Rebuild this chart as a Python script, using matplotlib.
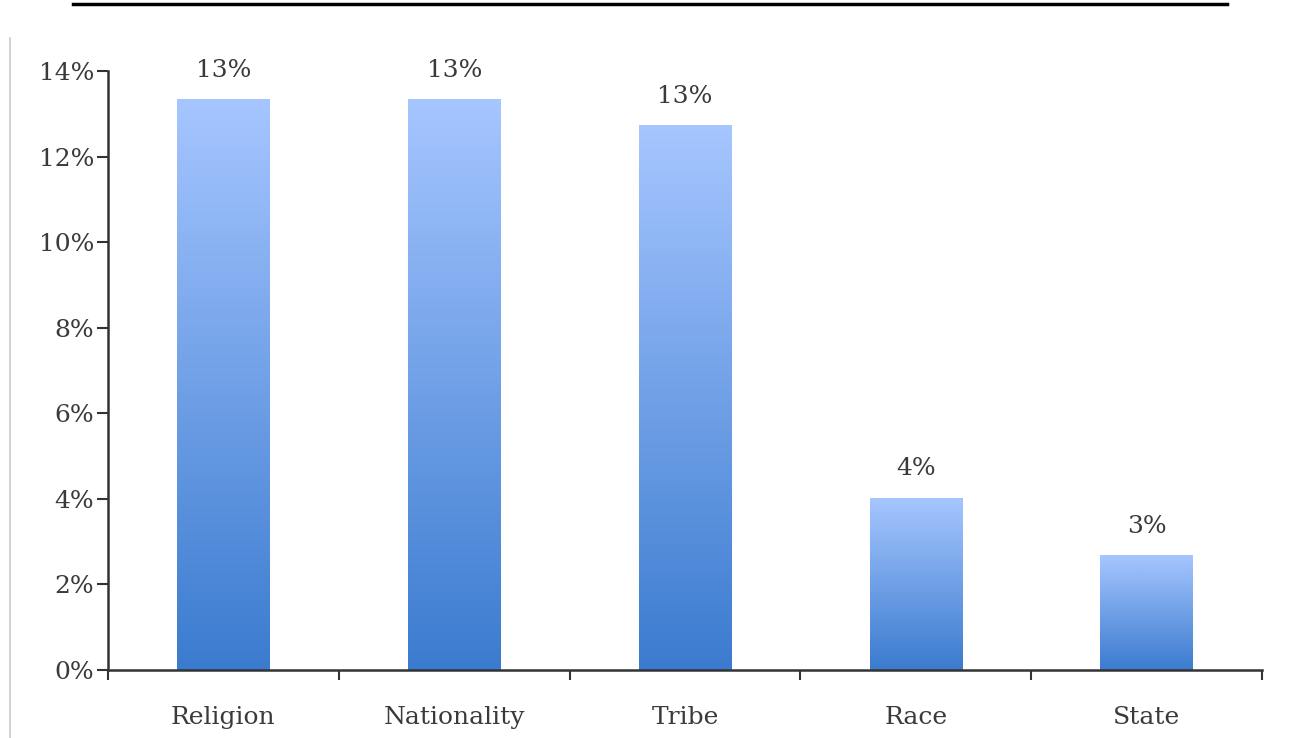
import matplotlib.pyplot as plt
import numpy as np
from matplotlib.lines import Line2D
from matplotlib.colors import LinearSegmentedColormap

categories = ['Religion', 'Nationality', 'Tribe', 'Race', 'State']
shares = [13.35, 13.35, 12.73, 4.03, 2.68]
labels = ['13%', '13%', '13%', '4%', '3%']
yticks = [0, 2, 4, 6, 8, 10, 12, 14]

plt.rcParams['font.family'] = ['DejaVu Serif']
txt_color = '#3a3a3a'
fs = 18

fig = plt.figure(figsize=(12.94, 7.38), dpi=100)
ax = fig.add_axes([108 / 1294, 68 / 738, 1154 / 1294, 599 / 738])

x = np.arange(len(categories))
bars = ax.bar(x, shares, width=0.4, color='none')

# vertical gradient fill, light on top, darker at the base
grad = np.linspace(0, 1, 256).reshape(-1, 1)
cmap = LinearSegmentedColormap.from_list('bluegrad', ['#3b7bcf', '#a6c6ff'])
for b in bars:
    x0, w, h = b.get_x(), b.get_width(), b.get_height()
    im = ax.imshow(grad, cmap=cmap, aspect='auto', origin='lower',
                   extent=[x0, x0 + w, 0, h], zorder=2)
    im.set_clip_path(b)

for xi, v, lab in zip(x, shares, labels):
    ax.text(xi, v + 0.4, lab, ha='center', va='bottom', fontsize=fs, color=txt_color)

ax.set_xlim(-0.5, len(categories) - 0.5)
ax.set_ylim(0, 14)
ax.set_yticks(yticks)
ax.set_yticklabels([f'{t}%' for t in yticks], fontsize=fs, color=txt_color)
ax.set_xticks(x)
ax.set_xticklabels(categories, fontsize=fs, color=txt_color)
ax.tick_params(axis='x', length=0, pad=26)
ax.tick_params(axis='y', length=8, width=1.5, color='#333333', pad=2)
ax.set_xticks(np.arange(-0.5, len(categories)), minor=True)
ax.tick_params(axis='x', which='minor', length=7, width=1.5, color='#333333')

for s in ['top', 'right']:
    ax.spines[s].set_visible(False)
for s in ['left', 'bottom']:
    ax.spines[s].set_color('#333333')
    ax.spines[s].set_linewidth(1.8)

# page decorations around the cropped chart
fig.add_artist(Line2D([73 / 1294, 1227 / 1294], [1 - 4 / 738, 1 - 4 / 738],
                      color='black', lw=2.5, transform=fig.transFigure))
fig.add_artist(Line2D([10 / 1294, 10 / 1294], [0, 1 - 38 / 738],
                      color='#cccccc', lw=1.2, transform=fig.transFigure))

fig.savefig('out.png', dpi=100)
